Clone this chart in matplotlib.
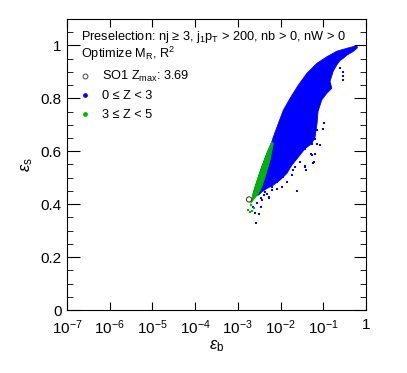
import numpy as np
import matplotlib
matplotlib.use('Agg')
import matplotlib.pyplot as plt
from matplotlib.ticker import FixedLocator, MultipleLocator, NullFormatter, LogLocator

plt.rcParams['font.family'] = ['Liberation Sans', 'DejaVu Sans']
plt.rcParams['mathtext.fontset'] = 'custom'
plt.rcParams['mathtext.rm'] = 'Liberation Sans'
plt.rcParams['mathtext.it'] = 'Liberation Sans:italic'
plt.rcParams['mathtext.sf'] = 'Liberation Sans'

#-----------------------------------
#   data
#-----------------------------------
# dense blue cloud (0 <= Z < 3), outline: upper edge then right edge
blue_env_b = [2.23e-3, 2.53e-3, 3.02e-3, 3.63e-3, 4.75e-3, 6.22e-3, 6.78e-3, 8.87e-3,
              1.16e-2, 1.67e-2, 2.61e-2, 4.11e-2, 7.05e-2, 0.121, 0.207, 0.355, 0.610,
              0.630, 0.499, 0.355, 0.291, 0.247, 0.207, 0.170, 0.144, 0.158, 0.121,
              9.23e-2, 7.55e-2, 7.16e-2, 6.43e-2, 5.38e-2, 3.75e-2, 2.61e-2, 1.83e-2,
              1.40e-2, 9.72e-3, 6.78e-3, 4.75e-3, 3.63e-3, 3.02e-3]
blue_env_s = [0.434, 0.465, 0.503, 0.541, 0.591, 0.635, 0.654, 0.705,
              0.755, 0.800, 0.850, 0.894, 0.932, 0.957, 0.978, 0.989, 0.999,
              0.991, 0.977, 0.963, 0.951, 0.943, 0.926, 0.902, 0.864, 0.838, 0.819,
              0.794, 0.751, 0.706, 0.654, 0.629, 0.610, 0.578, 0.547,
              0.516, 0.491, 0.472, 0.459, 0.446, 0.434]

# scattered blue points around the dense cloud
blue_pts_b = [8.41e-2, 7.05e-2, 5.09e-2, 5.86e-2, 3.75e-2, 3.89e-2, 1.93e-2, 2.39e-2,
              1.16e-2, 8.15e-3, 6.22e-3, 4.75e-3, 5.47e-3, 4.11e-3, 3.44e-3, 3.63e-3,
              2.77e-3, 3.49e-3, 2.31e-3, 2.53e-3, 3.13e-3, 2.67e-3,
              0.291, 0.291, 0.291, 0.247, 6.43e-2, 7.05e-2,
              0.103, 0.100, 6.53e-2, 5.47e-2, 4.18e-2, 3.81e-2, 5.47e-2, 6.00e-2,
              3.81e-2, 2.91e-2, 2.22e-2, 1.86e-2, 1.42e-2, 1.08e-2, 8.28e-3, 6.32e-3,
              4.41e-3, 4.05e-3, 5.30e-3]
blue_pts_s = [0.623, 0.629, 0.588, 0.557, 0.543, 0.528, 0.528, 0.450,
              0.503, 0.484, 0.465, 0.440, 0.422, 0.434, 0.425, 0.415,
              0.403, 0.390, 0.390, 0.365, 0.362, 0.327,
              0.898, 0.883, 0.868, 0.913, 0.591, 0.679,
              0.705, 0.686, 0.648, 0.629, 0.623, 0.610, 0.585, 0.560,
              0.541, 0.560, 0.541, 0.509, 0.484, 0.465, 0.459, 0.453,
              0.446, 0.434, 0.428]

# green strip (3 <= Z < 5)
green_env_b = [2.00e-3, 2.23e-3, 2.53e-3, 3.02e-3, 3.63e-3, 4.75e-3, 6.22e-3,
               6.78e-3, 5.67e-3, 4.34e-3, 3.63e-3, 3.02e-3]
green_env_s = [0.403, 0.434, 0.465, 0.503, 0.541, 0.591, 0.635,
               0.630, 0.566, 0.503, 0.465, 0.440]
green_pts_b = [1.76e-3, 1.93e-3, 2.19e-3, 2.39e-3, 2.04e-3]
green_pts_s = [0.377, 0.371, 0.375, 0.384, 0.396]

# best working point SO1
so1_b = [1.83e-3]
so1_s = [0.418]
so1_zmax = 3.69

xtick_pos = [1e-7, 1e-6, 1e-5, 1e-4, 1e-3, 1e-2, 1e-1, 1]
xtick_lab = ['$10^{-7}$', '$10^{-6}$', '$10^{-5}$', '$10^{-4}$',
             '$10^{-3}$', '$10^{-2}$', '$10^{-1}$', '1']
ytick_pos = [0, 0.2, 0.4, 0.6, 0.8, 1.0]
ytick_lab = ['0', '0.2', '0.4', '0.6', '0.8', '1']

blue = '#0000ff'
green = '#00b400'
circ = '#444444'

fig = plt.figure(figsize=(4.07, 3.73), dpi=100)
ax = fig.add_axes([0.1646, 0.1689, 0.7346, 0.7802])

ax.fill(blue_env_b, blue_env_s, color=blue, lw=0.6)
ax.scatter(blue_pts_b, blue_pts_s, s=3, marker='s', color=blue, linewidths=0)
ax.fill(green_env_b, green_env_s, color=green, lw=0.6)
ax.scatter(green_pts_b, green_pts_s, s=3, marker='s', color=green, linewidths=0)
ax.scatter(so1_b, so1_s, s=14, marker='o', facecolors='none', edgecolors=circ, linewidths=0.8)

ax.set_xscale('log')
ax.set_xlim(1e-7, 1)
ax.set_ylim(0, 1.1)

ax.xaxis.set_major_locator(FixedLocator(xtick_pos))
ax.set_xticklabels(xtick_lab)
ax.xaxis.set_minor_locator(LogLocator(base=10, subs=np.arange(2, 10)))
ax.xaxis.set_minor_formatter(NullFormatter())
ax.set_yticks(ytick_pos)
ax.set_yticklabels(ytick_lab)
ax.yaxis.set_minor_locator(MultipleLocator(0.05))

ax.tick_params(which='both', direction='in', top=True, right=True, labelsize=11)
ax.tick_params(axis='x', which='major', length=6, pad=6)
ax.tick_params(axis='x', which='minor', length=3)
ax.tick_params(axis='y', which='major', length=9, pad=4)
ax.tick_params(axis='y', which='minor', length=4.5)
for sp in ax.spines.values():
    sp.set_linewidth(0.8)

ax.set_xlabel(r'$\epsilon_{\mathrm{b}}$', fontsize=12, labelpad=1)
ax.set_ylabel(r'$\epsilon_{\mathrm{s}}$', fontsize=12, labelpad=4)

ax.text(0.048, 0.927, r'Preselection: nj ≥ 3, j$_{1}$p$_{\mathrm{T}}$ > 200, nb > 0, nW > 0',
        transform=ax.transAxes, fontsize=9.2, va='baseline')
ax.text(0.048, 0.866, r'Optimize M$_{\mathrm{R}}$, R$^{2}$',
        transform=ax.transAxes, fontsize=9.2, va='baseline')

# legend drawn row by row
leg_rows = [
    (dict(marker='o', ms=3.5, mfc='none', mec=circ, mew=0.7), r'SO1 Z$_{\mathrm{max}}$: %.2f' % so1_zmax),
    (dict(marker='o', ms=2.4, color=blue), '0 ≤ Z < 3'),
    (dict(marker='o', ms=2.4, color=green), '3 ≤ Z < 5'),
]
for i, (mk, lab) in enumerate(leg_rows):
    yb = 0.790 - i * 0.0655
    ax.plot([0.060], [yb + 0.013], ls='none', transform=ax.transAxes, **mk)
    ax.text(0.116, yb, lab, transform=ax.transAxes, fontsize=9.2, va='baseline')

fig.savefig('out.png', dpi=100)
